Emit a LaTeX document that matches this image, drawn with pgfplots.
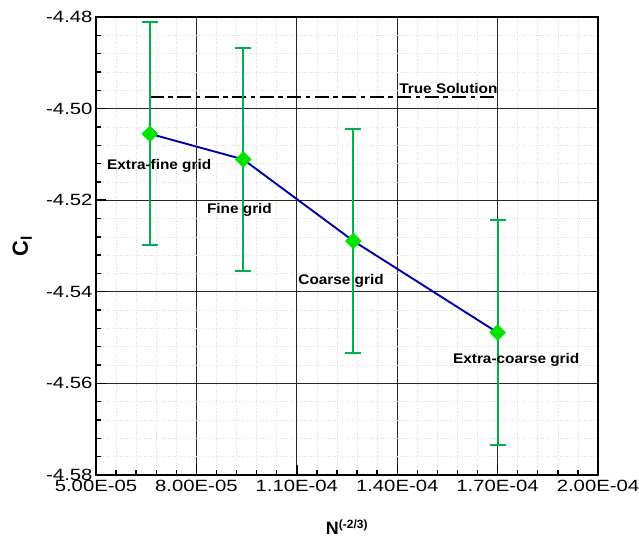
\documentclass[border=0pt]{standalone}
\usepackage{fontspec}
\setmainfont{Liberation Sans}
\newfontfamily\tickfont[FakeStretch=1.25]{Liberation Sans}
\newfontfamily\labfont[FakeStretch=1.1]{Liberation Sans}
\usepackage{pgfplots}
\usepackage{pgfplotstable}
\pgfplotsset{compat=1.18}
\definecolor{errgreen}{RGB}{0,176,80}
\definecolor{mkgreen}{RGB}{0,228,0}
\definecolor{lineblue}{RGB}{0,0,170}

\pgfplotstableread{
x y ey
6.61e-5 -4.5055 0.0243
9.40e-5 -4.5111 0.0244
1.269e-4 -4.5289 0.0245
1.70e-4 -4.5489 0.0246
}\gridtable

\pgfplotstableread{
x y
6.6e-5 -4.4974
1.70e-4 -4.4974
}\truetable

\begin{document}
\begin{tikzpicture}
\begin{axis}[
  scale only axis, width=502bp, height=458bp,
  xmin=5e-5, xmax=2e-4, ymin=-4.58, ymax=-4.48,
  scaled x ticks=false, scaled y ticks=false,
  xtick={5e-5,8e-5,1.1e-4,1.4e-4,1.7e-4,2e-4},
  xticklabels={5.00E-05,8.00E-05,1.10E-04,1.40E-04,1.70E-04,2.00E-04},
  ytick={-4.58,-4.56,-4.54,-4.52,-4.50,-4.48},
  yticklabels={-4.58,-4.56,-4.54,-4.52,-4.50,-4.48},
  minor x tick num=4, minor y tick num=4,
  xtick pos=bottom, ytick pos=left,
  tick align=inside,
  major tick length=10bp, minor tick length=5bp,
  every tick/.style={black, line width=1.4bp},
  grid=both,
  major grid style={black!85, line width=0.8bp},
  minor grid style={black!13, dotted, line width=0.6bp},
  axis line style={line width=2.2bp},
  ticklabel style={font=\tickfont\fontsize{16.3}{18}\selectfont},
  xticklabel style={yshift=-1.5bp},
  xlabel={\bfseries N\textsuperscript{\fontsize{12}{13}\selectfont(-2/3)}},
  xlabel style={font=\fontsize{18}{20}\selectfont, at={(axis description cs:0.5,-0.131)}, anchor=base},
  ylabel={\bfseries C\textsubscript{l}},
  ylabel style={font=\fontsize{22}{24}\selectfont, at={(axis description cs:-0.147,0.5)}, anchor=center},
  clip=false,
]
\coordinate (sw) at (rel axis cs:0,0);
\addplot[black, line width=2bp, dash pattern=on 14bp off 4.5bp on 4.5bp off 4.5bp] table[x=x,y=y] {\truetable};
\addplot[lineblue, line width=1.9bp, no marks] table[x=x,y=y] {\gridtable};
\addplot[errgreen, line width=2bp, only marks,
  mark=square*, mark size=5.6bp, mark options={rotate=45, fill=mkgreen, draw=mkgreen, line width=0.5bp},
  error bars/.cd, y dir=both, y explicit,
  error mark=|, error mark options={errgreen, mark size=8bp, line width=2bp},
  error bar style={errgreen, line width=2bp}]
  table[x=x,y=y,y error=ey] {\gridtable};
\begin{scope}[font=\labfont\bfseries\fontsize{14}{16}\selectfont]
\node[anchor=base, inner sep=0pt] at (axis cs:6.888e-5,-4.5134) {Extra-fine grid};
\node[anchor=base, inner sep=0pt] at (axis cs:9.287e-5,-4.52286) {Fine grid};
\node[anchor=base, inner sep=0pt] at (axis cs:1.2324e-4,-4.5383) {Coarse grid};
\node[anchor=base, inner sep=0pt] at (axis cs:1.7557e-4,-4.55576) {Extra-coarse grid};
\node[anchor=base, inner sep=0pt] at (axis cs:1.5529e-4,-4.49666) {True Solution};
\end{scope}
\end{axis}
\pgfresetboundingbox
\path[use as bounding box] ([shift={(-96bp,-67bp)}]sw) rectangle ([shift={(543bp,475bp)}]sw);
\end{tikzpicture}
\end{document}
